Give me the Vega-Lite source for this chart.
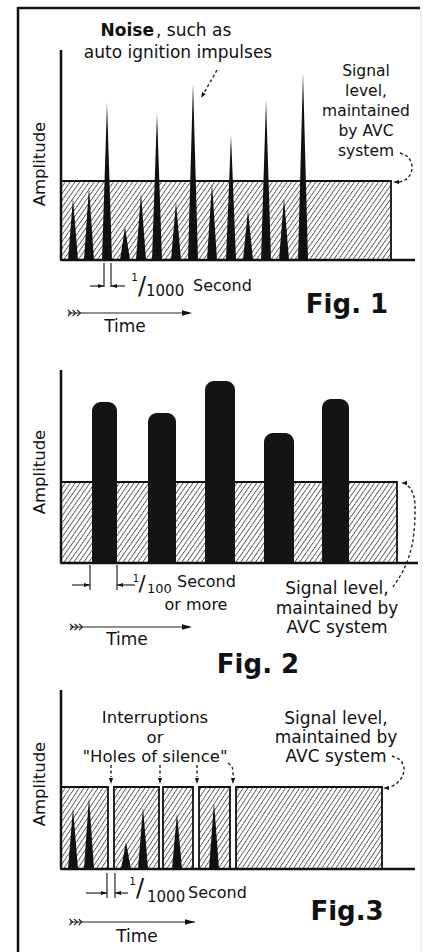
{
"$schema": "https://vega.github.io/schema/vega-lite/v6.json",
"padding": 0,
"spacing": 0,
"bounds": "flush",
"background": "white",
"config": {
 "view": {"stroke": null},
 "axis": {"disable": true},
 "legend": {"disable": true},
 "text": {"font": "DejaVu Sans", "color": "#111", "baseline": "middle"},
 "rect": {"fill": {"gradient": "linear", "x1": 0, "y1": 0, "x2": 1.136, "y2": 0.191, "stops": [
{"offset":0,"color":"#5a5a5a"},{"offset":0.0035,"color":"#fff"},{"offset":0.0105,"color":"#fff"},
{"offset":0.0125,"color":"#5a5a5a"},{"offset":0.016,"color":"#fff"},{"offset":0.023,"color":"#fff"},
{"offset":0.025,"color":"#5a5a5a"},{"offset":0.0285,"color":"#fff"},{"offset":0.0355,"color":"#fff"},
{"offset":0.0375,"color":"#5a5a5a"},{"offset":0.041,"color":"#fff"},{"offset":0.048,"color":"#fff"},
{"offset":0.05,"color":"#5a5a5a"},{"offset":0.0535,"color":"#fff"},{"offset":0.0605,"color":"#fff"},
{"offset":0.0625,"color":"#5a5a5a"},{"offset":0.066,"color":"#fff"},{"offset":0.073,"color":"#fff"},
{"offset":0.075,"color":"#5a5a5a"},{"offset":0.0785,"color":"#fff"},{"offset":0.0855,"color":"#fff"},
{"offset":0.0875,"color":"#5a5a5a"},{"offset":0.091,"color":"#fff"},{"offset":0.098,"color":"#fff"},
{"offset":0.1,"color":"#5a5a5a"},{"offset":0.1035,"color":"#fff"},{"offset":0.1105,"color":"#fff"},
{"offset":0.1125,"color":"#5a5a5a"},{"offset":0.116,"color":"#fff"},{"offset":0.123,"color":"#fff"},
{"offset":0.125,"color":"#5a5a5a"},{"offset":0.1285,"color":"#fff"},{"offset":0.1355,"color":"#fff"},
{"offset":0.1375,"color":"#5a5a5a"},{"offset":0.141,"color":"#fff"},{"offset":0.148,"color":"#fff"},
{"offset":0.15,"color":"#5a5a5a"},{"offset":0.1535,"color":"#fff"},{"offset":0.1605,"color":"#fff"},
{"offset":0.1625,"color":"#5a5a5a"},{"offset":0.166,"color":"#fff"},{"offset":0.173,"color":"#fff"},
{"offset":0.175,"color":"#5a5a5a"},{"offset":0.1785,"color":"#fff"},{"offset":0.1855,"color":"#fff"},
{"offset":0.1875,"color":"#5a5a5a"},{"offset":0.191,"color":"#fff"},{"offset":0.198,"color":"#fff"},
{"offset":0.2,"color":"#5a5a5a"},{"offset":0.2035,"color":"#fff"},{"offset":0.2105,"color":"#fff"},
{"offset":0.2125,"color":"#5a5a5a"},{"offset":0.216,"color":"#fff"},{"offset":0.223,"color":"#fff"},
{"offset":0.225,"color":"#5a5a5a"},{"offset":0.2285,"color":"#fff"},{"offset":0.2355,"color":"#fff"},
{"offset":0.2375,"color":"#5a5a5a"},{"offset":0.241,"color":"#fff"},{"offset":0.248,"color":"#fff"},
{"offset":0.25,"color":"#5a5a5a"},{"offset":0.2535,"color":"#fff"},{"offset":0.2605,"color":"#fff"},
{"offset":0.2625,"color":"#5a5a5a"},{"offset":0.266,"color":"#fff"},{"offset":0.273,"color":"#fff"},
{"offset":0.275,"color":"#5a5a5a"},{"offset":0.2785,"color":"#fff"},{"offset":0.2855,"color":"#fff"},
{"offset":0.2875,"color":"#5a5a5a"},{"offset":0.291,"color":"#fff"},{"offset":0.298,"color":"#fff"},
{"offset":0.3,"color":"#5a5a5a"},{"offset":0.3035,"color":"#fff"},{"offset":0.3105,"color":"#fff"},
{"offset":0.3125,"color":"#5a5a5a"},{"offset":0.316,"color":"#fff"},{"offset":0.323,"color":"#fff"},
{"offset":0.325,"color":"#5a5a5a"},{"offset":0.3285,"color":"#fff"},{"offset":0.3355,"color":"#fff"},
{"offset":0.3375,"color":"#5a5a5a"},{"offset":0.341,"color":"#fff"},{"offset":0.348,"color":"#fff"},
{"offset":0.35,"color":"#5a5a5a"},{"offset":0.3535,"color":"#fff"},{"offset":0.3605,"color":"#fff"},
{"offset":0.3625,"color":"#5a5a5a"},{"offset":0.366,"color":"#fff"},{"offset":0.373,"color":"#fff"},
{"offset":0.375,"color":"#5a5a5a"},{"offset":0.3785,"color":"#fff"},{"offset":0.3855,"color":"#fff"},
{"offset":0.3875,"color":"#5a5a5a"},{"offset":0.391,"color":"#fff"},{"offset":0.398,"color":"#fff"},
{"offset":0.4,"color":"#5a5a5a"},{"offset":0.4035,"color":"#fff"},{"offset":0.4105,"color":"#fff"},
{"offset":0.4125,"color":"#5a5a5a"},{"offset":0.416,"color":"#fff"},{"offset":0.423,"color":"#fff"},
{"offset":0.425,"color":"#5a5a5a"},{"offset":0.4285,"color":"#fff"},{"offset":0.4355,"color":"#fff"},
{"offset":0.4375,"color":"#5a5a5a"},{"offset":0.441,"color":"#fff"},{"offset":0.448,"color":"#fff"},
{"offset":0.45,"color":"#5a5a5a"},{"offset":0.4535,"color":"#fff"},{"offset":0.4605,"color":"#fff"},
{"offset":0.4625,"color":"#5a5a5a"},{"offset":0.466,"color":"#fff"},{"offset":0.473,"color":"#fff"},
{"offset":0.475,"color":"#5a5a5a"},{"offset":0.4785,"color":"#fff"},{"offset":0.4855,"color":"#fff"},
{"offset":0.4875,"color":"#5a5a5a"},{"offset":0.491,"color":"#fff"},{"offset":0.498,"color":"#fff"},
{"offset":0.5,"color":"#5a5a5a"},{"offset":0.5035,"color":"#fff"},{"offset":0.5105,"color":"#fff"},
{"offset":0.5125,"color":"#5a5a5a"},{"offset":0.516,"color":"#fff"},{"offset":0.523,"color":"#fff"},
{"offset":0.525,"color":"#5a5a5a"},{"offset":0.5285,"color":"#fff"},{"offset":0.5355,"color":"#fff"},
{"offset":0.5375,"color":"#5a5a5a"},{"offset":0.541,"color":"#fff"},{"offset":0.548,"color":"#fff"},
{"offset":0.55,"color":"#5a5a5a"},{"offset":0.5535,"color":"#fff"},{"offset":0.5605,"color":"#fff"},
{"offset":0.5625,"color":"#5a5a5a"},{"offset":0.566,"color":"#fff"},{"offset":0.573,"color":"#fff"},
{"offset":0.575,"color":"#5a5a5a"},{"offset":0.5785,"color":"#fff"},{"offset":0.5855,"color":"#fff"},
{"offset":0.5875,"color":"#5a5a5a"},{"offset":0.591,"color":"#fff"},{"offset":0.598,"color":"#fff"},
{"offset":0.6,"color":"#5a5a5a"},{"offset":0.6035,"color":"#fff"},{"offset":0.6105,"color":"#fff"},
{"offset":0.6125,"color":"#5a5a5a"},{"offset":0.616,"color":"#fff"},{"offset":0.623,"color":"#fff"},
{"offset":0.625,"color":"#5a5a5a"},{"offset":0.6285,"color":"#fff"},{"offset":0.6355,"color":"#fff"},
{"offset":0.6375,"color":"#5a5a5a"},{"offset":0.641,"color":"#fff"},{"offset":0.648,"color":"#fff"},
{"offset":0.65,"color":"#5a5a5a"},{"offset":0.6535,"color":"#fff"},{"offset":0.6605,"color":"#fff"},
{"offset":0.6625,"color":"#5a5a5a"},{"offset":0.666,"color":"#fff"},{"offset":0.673,"color":"#fff"},
{"offset":0.675,"color":"#5a5a5a"},{"offset":0.6785,"color":"#fff"},{"offset":0.6855,"color":"#fff"},
{"offset":0.6875,"color":"#5a5a5a"},{"offset":0.691,"color":"#fff"},{"offset":0.698,"color":"#fff"},
{"offset":0.7,"color":"#5a5a5a"},{"offset":0.7035,"color":"#fff"},{"offset":0.7105,"color":"#fff"},
{"offset":0.7125,"color":"#5a5a5a"},{"offset":0.716,"color":"#fff"},{"offset":0.723,"color":"#fff"},
{"offset":0.725,"color":"#5a5a5a"},{"offset":0.7285,"color":"#fff"},{"offset":0.7355,"color":"#fff"},
{"offset":0.7375,"color":"#5a5a5a"},{"offset":0.741,"color":"#fff"},{"offset":0.748,"color":"#fff"},
{"offset":0.75,"color":"#5a5a5a"},{"offset":0.7535,"color":"#fff"},{"offset":0.7605,"color":"#fff"},
{"offset":0.7625,"color":"#5a5a5a"},{"offset":0.766,"color":"#fff"},{"offset":0.773,"color":"#fff"},
{"offset":0.775,"color":"#5a5a5a"},{"offset":0.7785,"color":"#fff"},{"offset":0.7855,"color":"#fff"},
{"offset":0.7875,"color":"#5a5a5a"},{"offset":0.791,"color":"#fff"},{"offset":0.798,"color":"#fff"},
{"offset":0.8,"color":"#5a5a5a"},{"offset":0.8035,"color":"#fff"},{"offset":0.8105,"color":"#fff"},
{"offset":0.8125,"color":"#5a5a5a"},{"offset":0.816,"color":"#fff"},{"offset":0.823,"color":"#fff"},
{"offset":0.825,"color":"#5a5a5a"},{"offset":0.8285,"color":"#fff"},{"offset":0.8355,"color":"#fff"},
{"offset":0.8375,"color":"#5a5a5a"},{"offset":0.841,"color":"#fff"},{"offset":0.848,"color":"#fff"},
{"offset":0.85,"color":"#5a5a5a"},{"offset":0.8535,"color":"#fff"},{"offset":0.8605,"color":"#fff"},
{"offset":0.8625,"color":"#5a5a5a"},{"offset":0.866,"color":"#fff"},{"offset":0.873,"color":"#fff"},
{"offset":0.875,"color":"#5a5a5a"},{"offset":0.8785,"color":"#fff"},{"offset":0.8855,"color":"#fff"},
{"offset":0.8875,"color":"#5a5a5a"},{"offset":0.891,"color":"#fff"},{"offset":0.898,"color":"#fff"},
{"offset":0.9,"color":"#5a5a5a"},{"offset":0.9035,"color":"#fff"},{"offset":0.9105,"color":"#fff"},
{"offset":0.9125,"color":"#5a5a5a"},{"offset":0.916,"color":"#fff"},{"offset":0.923,"color":"#fff"},
{"offset":0.925,"color":"#5a5a5a"},{"offset":0.9285,"color":"#fff"},{"offset":0.9355,"color":"#fff"},
{"offset":0.9375,"color":"#5a5a5a"},{"offset":0.941,"color":"#fff"},{"offset":0.948,"color":"#fff"},
{"offset":0.95,"color":"#5a5a5a"},{"offset":0.9535,"color":"#fff"},{"offset":0.9605,"color":"#fff"},
{"offset":0.9625,"color":"#5a5a5a"},{"offset":0.966,"color":"#fff"},{"offset":0.973,"color":"#fff"},
{"offset":0.975,"color":"#5a5a5a"},{"offset":0.9785,"color":"#fff"},{"offset":0.9855,"color":"#fff"},
{"offset":0.9875,"color":"#5a5a5a"},{"offset":0.991,"color":"#fff"},{"offset":0.998,"color":"#fff"}
 ]}}
},
"vconcat": [
{
 "width": 423, "height": 345,
 "data": {"values": [{}]},
 "layer": [
  {"data": {"values": [{"t0": 0, "t1": 330, "level": 79}]},
   "mark": {"type": "rect", "stroke": "#111", "strokeWidth": 1.8},
   "encoding": {
    "x": {"field": "t0", "type": "quantitative", "scale": {"domain": [-61, 362], "nice": false, "zero": false}},
    "x2": {"field": "t1"},
    "y": {"field": "level", "type": "quantitative", "scale": {"domain": [-85, 260], "nice": false, "zero": false}},
    "y2": {"datum": 0}}},
  {"data": {"values": [
    {"id":1,"t":7,"amp":0},{"id":1,"t":12,"amp":62},{"id":1,"t":17,"amp":0},
    {"id":2,"t":23,"amp":0},{"id":2,"t":28,"amp":73},{"id":2,"t":33,"amp":0},
    {"id":3,"t":41,"amp":0},{"id":3,"t":46,"amp":157},{"id":3,"t":51,"amp":0},
    {"id":4,"t":59,"amp":0},{"id":4,"t":64,"amp":33},{"id":4,"t":69,"amp":0},
    {"id":5,"t":75,"amp":0},{"id":5,"t":80,"amp":67},{"id":5,"t":85,"amp":0},
    {"id":6,"t":91,"amp":0},{"id":6,"t":96,"amp":147},{"id":6,"t":101,"amp":0},
    {"id":7,"t":110,"amp":0},{"id":7,"t":115,"amp":58},{"id":7,"t":120,"amp":0},
    {"id":8,"t":127,"amp":0},{"id":8,"t":132,"amp":177},{"id":8,"t":137,"amp":0},
    {"id":9,"t":146,"amp":0},{"id":9,"t":151,"amp":77},{"id":9,"t":156,"amp":0},
    {"id":10,"t":165,"amp":0},{"id":10,"t":170,"amp":125},{"id":10,"t":175,"amp":0},
    {"id":11,"t":182,"amp":0},{"id":11,"t":187,"amp":50},{"id":11,"t":192,"amp":0},
    {"id":12,"t":200,"amp":0},{"id":12,"t":205,"amp":160},{"id":12,"t":210,"amp":0},
    {"id":13,"t":218,"amp":0},{"id":13,"t":223,"amp":62},{"id":13,"t":228,"amp":0},
    {"id":14,"t":237,"amp":0},{"id":14,"t":242,"amp":187},{"id":14,"t":247,"amp":0}]},
   "mark": {"type": "area", "color": "#111", "opacity": 1},
   "encoding": {"x": {"field": "t", "type": "quantitative"}, "y": {"field": "amp", "type": "quantitative", "stack": null}, "detail": {"field": "id", "type": "nominal"}}},
  {"data": {"values": [{"t":0,"t2":0,"a":0,"a2":210},{"t":0,"t2":354,"a":0,"a2":0},{"t":-43,"t2":-43,"a":253,"a2":-85},{"t":-43,"t2":359,"a":252,"a2":252}]},
   "mark": {"type": "rule", "color": "#111", "strokeWidth": 2.5},
   "encoding": {"x": {"field": "t", "type": "quantitative"}, "x2": {"field": "t2"}, "y": {"field": "a", "type": "quantitative"}, "y2": {"field": "a2"}}},
  {"data": {"values": [{"t":360,"a":252,"a2":-85}]},
   "mark": {"type": "rule", "color": "#e2e2e2", "strokeWidth": 1},
   "encoding": {"x": {"field": "t", "type": "quantitative"}, "y": {"field": "a", "type": "quantitative"}, "y2": {"field": "a2"}}},
  {"data": {"values": [{"t":43,"t2":43,"a":-3,"a2":-27},{"t":50,"t2":50,"a":-3,"a2":-27},{"t":29,"t2":43,"a":-26,"a2":-26},{"t":50,"t2":64,"a":-26,"a2":-26},{"t":7,"t2":129,"a":-53,"a2":-53}]},
   "mark": {"type": "rule", "color": "#222", "strokeWidth": 1.2},
   "encoding": {"x": {"field": "t", "type": "quantitative"}, "x2": {"field": "t2"}, "y": {"field": "a", "type": "quantitative"}, "y2": {"field": "a2"}}},
  {"data": {"values": [{"id":"a","i":0,"t":156,"amp":190},{"id":"a","i":1,"t":143,"amp":167},
    {"id":"b","i":0,"t":339,"amp":107},{"id":"b","i":1,"t":347,"amp":103},{"id":"b","i":2,"t":351,"amp":94},{"id":"b","i":3,"t":349,"amp":85},{"id":"b","i":4,"t":344,"amp":80},{"id":"b","i":5,"t":338,"amp":78}]},
   "mark": {"type": "line", "color": "#222", "strokeWidth": 1.4, "strokeDash": [3, 2.5], "interpolate": "catmull-rom"},
   "encoding": {"x": {"field": "t", "type": "quantitative"}, "y": {"field": "amp", "type": "quantitative"}, "detail": {"field": "id", "type": "nominal"}, "order": {"field": "i", "type": "quantitative"}}},
  {"data": {"values": [{"t":40,"amp":-26,"dir":"right"},{"t":53,"amp":-26,"dir":"left"},{"t":141.5,"amp":164.5,"dir":"downleft"},{"t":335,"amp":78,"dir":"left"}]},
   "mark": {"type": "point", "filled": true, "color": "#111", "size": 36, "opacity": 1},
   "encoding": {"x": {"field": "t", "type": "quantitative"}, "y": {"field": "amp", "type": "quantitative"},
    "shape": {"field": "dir", "type": "nominal", "scale": {"domain": ["right","left","down","downleft"], "range": ["M1,0L-1,-0.7L-1,0.7Z","M-1,0L1,-0.7L1,0.7Z","M0,1L-0.7,-1L0.7,-1Z","M-0.45,0.78L1.06,-0.43L-0.16,-1.13Z"]}}}},
  {"data": {"values": [{"t":126,"amp":-53}]},
   "mark": {"type": "point", "shape": "M1,0L-1,-0.55L-1,0.55Z", "filled": true, "color": "#111", "size": 100, "opacity": 1},
   "encoding": {"x": {"field": "t", "type": "quantitative"}, "y": {"field": "amp", "type": "quantitative"}}},
  {"data": {"values": [{"t":14,"amp":-53}]},
   "mark": {"type": "point", "shape": "M-1,-0.45L-0.55,0L-1,0.45M-0.35,-0.45L0.1,0L-0.35,0.45M0.3,-0.45L0.75,0L0.3,0.45", "filled": false, "color": "#222", "strokeWidth": 1.2, "size": 200, "opacity": 1},
   "encoding": {"x": {"field": "t", "type": "quantitative"}, "y": {"field": "amp", "type": "quantitative"}}},
  {"mark": {"type": "text", "text": "Amplitude", "fontSize": 16.5, "angle": 270}, "encoding": {"x": {"datum": -21}, "y": {"datum": 96}}},
  {"mark": {"type": "text", "text": "Noise", "fontSize": 17, "fontWeight": "bold", "align": "right"}, "encoding": {"x": {"datum": 93}, "y": {"datum": 229}}},
  {"mark": {"type": "text", "text": ", such as", "fontSize": 17, "align": "left"}, "encoding": {"x": {"datum": 95}, "y": {"datum": 229}}},
  {"mark": {"type": "text", "text": "auto ignition impulses", "fontSize": 17}, "encoding": {"x": {"datum": 117}, "y": {"datum": 207}}},
  {"mark": {"type": "text", "text": ["Signal", "level,", "maintained", "by AVC", "system"], "fontSize": 15.5, "lineHeight": 20, "baseline": "top"}, "encoding": {"x": {"datum": 305}, "y": {"datum": 196}}},
  {"mark": {"type": "text", "text": "1", "fontSize": 10.5, "align": "right"}, "encoding": {"x": {"datum": 77}, "y": {"datum": -18}}},
  {"mark": {"type": "text", "text": "/", "fontSize": 24}, "encoding": {"x": {"datum": 81}, "y": {"datum": -27}}},
  {"mark": {"type": "text", "text": "1000", "fontSize": 15, "align": "left"}, "encoding": {"x": {"datum": 85}, "y": {"datum": -31}}},
  {"mark": {"type": "text", "text": "Second", "fontSize": 16, "align": "left"}, "encoding": {"x": {"datum": 132}, "y": {"datum": -26}}},
  {"mark": {"type": "text", "text": "Time", "fontSize": 17}, "encoding": {"x": {"datum": 64}, "y": {"datum": -67}}},
  {"mark": {"type": "text", "text": "Fig. 1", "fontSize": 26, "fontWeight": "bold"}, "encoding": {"x": {"datum": 286}, "y": {"datum": -45}}}
 ]
},
{
 "width": 423, "height": 340,
 "data": {"values": [{}]},
 "layer": [
  {"data": {"values": [{"t0": 0, "t1": 336, "level": 81}]},
   "mark": {"type": "rect", "stroke": "#111", "strokeWidth": 1.8},
   "encoding": {
    "x": {"field": "t0", "type": "quantitative", "scale": {"domain": [-61, 362], "nice": false, "zero": false}},
    "x2": {"field": "t1"},
    "y": {"field": "level", "type": "quantitative", "scale": {"domain": [-122, 218], "nice": false, "zero": false}},
    "y2": {"datum": 0}}},
  {"data": {"values": [{"t0":31,"t1":56,"top":161},{"t0":87,"t1":115,"top":150},{"t0":144,"t1":174,"top":182},{"t0":203,"t1":233,"top":130},{"t0":261,"t1":288,"top":164}]},
   "mark": {"type": "bar", "color": "#141414", "cornerRadiusTopLeft": 9, "cornerRadiusTopRight": 9},
   "encoding": {"x": {"field": "t0", "type": "quantitative"}, "x2": {"field": "t1"}, "y": {"field": "top", "type": "quantitative"}, "y2": {"datum": 0}}},
  {"data": {"values": [{"t":0,"t2":0,"a":0,"a2":193},{"t":0,"t2":357,"a":0,"a2":0},{"t":-43,"t2":-43,"a":218,"a2":-122}]},
   "mark": {"type": "rule", "color": "#111", "strokeWidth": 2.5},
   "encoding": {"x": {"field": "t", "type": "quantitative"}, "x2": {"field": "t2"}, "y": {"field": "a", "type": "quantitative"}, "y2": {"field": "a2"}}},
  {"data": {"values": [{"t":360,"a":218,"a2":-122}]},
   "mark": {"type": "rule", "color": "#e2e2e2", "strokeWidth": 1},
   "encoding": {"x": {"field": "t", "type": "quantitative"}, "y": {"field": "a", "type": "quantitative"}, "y2": {"field": "a2"}}},
  {"data": {"values": [{"t":29,"t2":29,"a":-2,"a2":-27},{"t":56,"t2":56,"a":-2,"a2":-27},{"t":11,"t2":29,"a":-22,"a2":-22},{"t":56,"t2":74,"a":-22,"a2":-22},{"t":9,"t2":129,"a":-64,"a2":-64}]},
   "mark": {"type": "rule", "color": "#222", "strokeWidth": 1.2},
   "encoding": {"x": {"field": "t", "type": "quantitative"}, "x2": {"field": "t2"}, "y": {"field": "a", "type": "quantitative"}, "y2": {"field": "a2"}}},
  {"data": {"values": [{"id":"c","i":0,"t":332,"amp":-24},{"id":"c","i":1,"t":343,"amp":-6},{"id":"c","i":2,"t":351,"amp":18},{"id":"c","i":3,"t":354,"amp":48},{"id":"c","i":4,"t":353,"amp":66},{"id":"c","i":5,"t":349,"amp":75},{"id":"c","i":6,"t":344,"amp":79}]},
   "mark": {"type": "line", "color": "#222", "strokeWidth": 1.4, "strokeDash": [3, 2.5], "interpolate": "catmull-rom"},
   "encoding": {"x": {"field": "t", "type": "quantitative"}, "y": {"field": "amp", "type": "quantitative"}, "detail": {"field": "id", "type": "nominal"}, "order": {"field": "i", "type": "quantitative"}}},
  {"data": {"values": [{"t":26,"amp":-22,"dir":"right"},{"t":59,"amp":-22,"dir":"left"},{"t":343,"amp":80,"dir":"left"}]},
   "mark": {"type": "point", "filled": true, "color": "#111", "size": 36, "opacity": 1},
   "encoding": {"x": {"field": "t", "type": "quantitative"}, "y": {"field": "amp", "type": "quantitative"},
    "shape": {"field": "dir", "type": "nominal", "scale": {"domain": ["right","left","down","downleft"], "range": ["M1,0L-1,-0.7L-1,0.7Z","M-1,0L1,-0.7L1,0.7Z","M0,1L-0.7,-1L0.7,-1Z","M-0.45,0.78L1.06,-0.43L-0.16,-1.13Z"]}}}},
  {"data": {"values": [{"t":126,"amp":-64}]},
   "mark": {"type": "point", "shape": "M1,0L-1,-0.55L-1,0.55Z", "filled": true, "color": "#111", "size": 100, "opacity": 1},
   "encoding": {"x": {"field": "t", "type": "quantitative"}, "y": {"field": "amp", "type": "quantitative"}}},
  {"data": {"values": [{"t":16,"amp":-64}]},
   "mark": {"type": "point", "shape": "M-1,-0.45L-0.55,0L-1,0.45M-0.35,-0.45L0.1,0L-0.35,0.45M0.3,-0.45L0.75,0L0.3,0.45", "filled": false, "color": "#222", "strokeWidth": 1.2, "size": 200, "opacity": 1},
   "encoding": {"x": {"field": "t", "type": "quantitative"}, "y": {"field": "amp", "type": "quantitative"}}},
  {"mark": {"type": "text", "text": "Amplitude", "fontSize": 16.5, "angle": 270}, "encoding": {"x": {"datum": -21}, "y": {"datum": 91}}},
  {"mark": {"type": "text", "text": "1", "fontSize": 10, "align": "right"}, "encoding": {"x": {"datum": 78}, "y": {"datum": -16}}},
  {"mark": {"type": "text", "text": "/", "fontSize": 21}, "encoding": {"x": {"datum": 81}, "y": {"datum": -22}}},
  {"mark": {"type": "text", "text": "100", "fontSize": 13, "align": "left"}, "encoding": {"x": {"datum": 86}, "y": {"datum": -26}}},
  {"mark": {"type": "text", "text": "Second", "fontSize": 16, "align": "left"}, "encoding": {"x": {"datum": 116}, "y": {"datum": -19}}},
  {"mark": {"type": "text", "text": "or more", "fontSize": 16}, "encoding": {"x": {"datum": 135}, "y": {"datum": -42}}},
  {"mark": {"type": "text", "text": ["Signal level,", "maintained by", "AVC system"], "fontSize": 17, "lineHeight": 19.5, "baseline": "top"}, "encoding": {"x": {"datum": 276}, "y": {"datum": -18}}},
  {"mark": {"type": "text", "text": "Time", "fontSize": 17}, "encoding": {"x": {"datum": 66}, "y": {"datum": -77}}},
  {"mark": {"type": "text", "text": "Fig. 2", "fontSize": 26, "fontWeight": "bold"}, "encoding": {"x": {"datum": 197}, "y": {"datum": -102}}}
 ]
},
{
 "width": 423, "height": 267,
 "data": {"values": [{}]},
 "layer": [
  {"data": {"values": [{"t0": 0, "t1": 321, "level": 82}]},
   "mark": {"type": "rect"},
   "encoding": {
    "x": {"field": "t0", "type": "quantitative", "scale": {"domain": [-61, 362], "nice": false, "zero": false}},
    "x2": {"field": "t1"},
    "y": {"field": "level", "type": "quantitative", "scale": {"domain": [-83, 184], "nice": false, "zero": false}},
    "y2": {"datum": 0}}},
  {"data": {"values": [{"t0":47,"t1":53},{"t0":98,"t1":102},{"t0":132,"t1":138},{"t0":169,"t1":175}]},
   "mark": {"type": "bar", "color": "white"},
   "encoding": {"x": {"field": "t0", "type": "quantitative"}, "x2": {"field": "t1"}, "y": {"datum": 84}, "y2": {"datum": 0}}},
  {"data": {"values": [{"t0":0,"t1":47},{"t0":53,"t1":98},{"t0":102,"t1":132},{"t0":138,"t1":169},{"t0":175,"t1":321}]},
   "mark": {"type": "bar", "filled": false, "color": "#111", "strokeWidth": 1.8},
   "encoding": {"x": {"field": "t0", "type": "quantitative"}, "x2": {"field": "t1"}, "y": {"datum": 82}, "y2": {"datum": 0}}},
  {"data": {"values": [
    {"id":1,"t":7,"amp":0},{"id":1,"t":12,"amp":61},{"id":1,"t":17,"amp":0},
    {"id":2,"t":23,"amp":0},{"id":2,"t":28,"amp":72},{"id":2,"t":33,"amp":0},
    {"id":3,"t":60,"amp":0},{"id":3,"t":65,"amp":27},{"id":3,"t":70,"amp":0},
    {"id":4,"t":77,"amp":0},{"id":4,"t":82,"amp":62},{"id":4,"t":87,"amp":0},
    {"id":5,"t":111,"amp":0},{"id":5,"t":116,"amp":56},{"id":5,"t":121,"amp":0},
    {"id":6,"t":148,"amp":0},{"id":6,"t":153,"amp":67},{"id":6,"t":158,"amp":0}]},
   "mark": {"type": "area", "color": "#111", "opacity": 1},
   "encoding": {"x": {"field": "t", "type": "quantitative"}, "y": {"field": "amp", "type": "quantitative", "stack": null}, "detail": {"field": "id", "type": "nominal"}}},
  {"data": {"values": [{"t":0,"t2":0,"a":0,"a2":179},{"t":0,"t2":354,"a":0,"a2":0},{"t":-43,"t2":-43,"a":184,"a2":-83}]},
   "mark": {"type": "rule", "color": "#111", "strokeWidth": 2.5},
   "encoding": {"x": {"field": "t", "type": "quantitative"}, "x2": {"field": "t2"}, "y": {"field": "a", "type": "quantitative"}, "y2": {"field": "a2"}}},
  {"data": {"values": [{"t":360,"a":184,"a2":-83}]},
   "mark": {"type": "rule", "color": "#e2e2e2", "strokeWidth": 1},
   "encoding": {"x": {"field": "t", "type": "quantitative"}, "y": {"field": "a", "type": "quantitative"}, "y2": {"field": "a2"}}},
  {"data": {"values": [{"t":46,"t2":46,"a":-4,"a2":-29},{"t":54,"t2":54,"a":-4,"a2":-29},{"t":25,"t2":46,"a":-24,"a2":-24},{"t":54,"t2":67,"a":-24,"a2":-24},{"t":9,"t2":134,"a":-53,"a2":-53}]},
   "mark": {"type": "rule", "color": "#222", "strokeWidth": 1.2},
   "encoding": {"x": {"field": "t", "type": "quantitative"}, "x2": {"field": "t2"}, "y": {"field": "a", "type": "quantitative"}, "y2": {"field": "a2"}}},
  {"data": {"values": [
    {"id":"d1","i":0,"t":50,"amp":104},{"id":"d1","i":1,"t":50,"amp":92},
    {"id":"d2","i":0,"t":99,"amp":104},{"id":"d2","i":1,"t":99,"amp":92},
    {"id":"d3","i":0,"t":136,"amp":104},{"id":"d3","i":1,"t":136,"amp":92},
    {"id":"d4","i":0,"t":167,"amp":106},{"id":"d4","i":1,"t":171,"amp":102},{"id":"d4","i":2,"t":172,"amp":97},{"id":"d4","i":3,"t":172,"amp":92},
    {"id":"d5","i":0,"t":331,"amp":113},{"id":"d5","i":1,"t":339,"amp":109},{"id":"d5","i":2,"t":343,"amp":101},{"id":"d5","i":3,"t":341,"amp":92},{"id":"d5","i":4,"t":335,"amp":85},{"id":"d5","i":5,"t":329,"amp":82}]},
   "mark": {"type": "line", "color": "#222", "strokeWidth": 1.4, "strokeDash": [3, 2.5], "interpolate": "catmull-rom"},
   "encoding": {"x": {"field": "t", "type": "quantitative"}, "y": {"field": "amp", "type": "quantitative"}, "detail": {"field": "id", "type": "nominal"}, "order": {"field": "i", "type": "quantitative"}}},
  {"data": {"values": [{"t":43,"amp":-24,"dir":"right"},{"t":57,"amp":-24,"dir":"left"},{"t":50,"amp":88,"dir":"down"},{"t":99,"amp":88,"dir":"down"},{"t":136,"amp":88,"dir":"down"},{"t":172,"amp":88,"dir":"down"},{"t":325,"amp":81,"dir":"left"}]},
   "mark": {"type": "point", "filled": true, "color": "#111", "size": 36, "opacity": 1},
   "encoding": {"x": {"field": "t", "type": "quantitative"}, "y": {"field": "amp", "type": "quantitative"},
    "shape": {"field": "dir", "type": "nominal", "scale": {"domain": ["right","left","down","downleft"], "range": ["M1,0L-1,-0.7L-1,0.7Z","M-1,0L1,-0.7L1,0.7Z","M0,1L-0.7,-1L0.7,-1Z","M-0.45,0.78L1.06,-0.43L-0.16,-1.13Z"]}}}},
  {"data": {"values": [{"t":129,"amp":-53}]},
   "mark": {"type": "point", "shape": "M1,0L-1,-0.55L-1,0.55Z", "filled": true, "color": "#111", "size": 100, "opacity": 1},
   "encoding": {"x": {"field": "t", "type": "quantitative"}, "y": {"field": "amp", "type": "quantitative"}}},
  {"data": {"values": [{"t":15.5,"amp":-53}]},
   "mark": {"type": "point", "shape": "M-1,-0.45L-0.55,0L-1,0.45M-0.35,-0.45L0.1,0L-0.35,0.45M0.3,-0.45L0.75,0L0.3,0.45", "filled": false, "color": "#222", "strokeWidth": 1.2, "size": 200, "opacity": 1},
   "encoding": {"x": {"field": "t", "type": "quantitative"}, "y": {"field": "amp", "type": "quantitative"}}},
  {"mark": {"type": "text", "text": "Amplitude", "fontSize": 16.5, "angle": 270}, "encoding": {"x": {"datum": -21}, "y": {"datum": 85}}},
  {"mark": {"type": "text", "text": ["Interruptions", "or", "\"Holes of silence\""], "fontSize": 16.5, "lineHeight": 19.5, "baseline": "top"}, "encoding": {"x": {"datum": 94}, "y": {"datum": 159}}},
  {"mark": {"type": "text", "text": ["Signal level,", "maintained by", "AVC system"], "fontSize": 17, "lineHeight": 19, "baseline": "top"}, "encoding": {"x": {"datum": 275}, "y": {"datum": 158}}},
  {"mark": {"type": "text", "text": "1", "fontSize": 10.5, "align": "right"}, "encoding": {"x": {"datum": 75}, "y": {"datum": -13}}},
  {"mark": {"type": "text", "text": "/", "fontSize": 24}, "encoding": {"x": {"datum": 79}, "y": {"datum": -20}}},
  {"mark": {"type": "text", "text": "1000", "fontSize": 15, "align": "left"}, "encoding": {"x": {"datum": 86}, "y": {"datum": -28}}},
  {"mark": {"type": "text", "text": "Second", "fontSize": 16, "align": "left"}, "encoding": {"x": {"datum": 127}, "y": {"datum": -24}}},
  {"mark": {"type": "text", "text": "Time", "fontSize": 17}, "encoding": {"x": {"datum": 76}, "y": {"datum": -68}}},
  {"mark": {"type": "text", "text": "Fig.3", "fontSize": 26, "fontWeight": "bold"}, "encoding": {"x": {"datum": 286}, "y": {"datum": -43}}}
 ]
}
]
}
